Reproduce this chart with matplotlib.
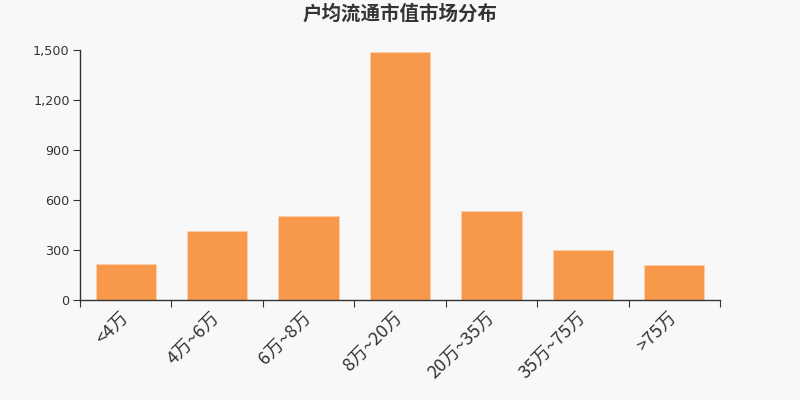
import matplotlib
matplotlib.use("Agg")
import matplotlib.pyplot as plt
from matplotlib.ticker import FuncFormatter, MultipleLocator

plt.rcParams['font.family'] = ['DejaVu Sans', 'Noto Sans CJK SC']

categories = ["<4万", "4万~6万", "6万~8万", "8万~20万", "20万~35万", "35万~75万", ">75万"]
values = [216, 414, 504, 1488, 532, 298, 210]
title = "户均流通市值市场分布"

bg = "#f8f8f8"
bar_color = "#f7984a"
text_color = "#333333"

fig = plt.figure(figsize=(8, 4), dpi=100, facecolor=bg)
ax = fig.add_axes([0.1, 0.25, 0.8, 0.625], facecolor=bg)

x = list(range(len(categories)))
ax.bar(x, values, width=0.66, color=bar_color, edgecolor="#fbd0ac", linewidth=0.6)

ax.set_xlim(-0.5, len(categories) - 0.5)
ax.set_ylim(0, 1500)
ax.yaxis.set_major_locator(MultipleLocator(300))
ax.yaxis.set_major_formatter(FuncFormatter(lambda v, p: f"{int(v):,}"))

for s in ["top", "right"]:
    ax.spines[s].set_visible(False)
for s in ["left", "bottom"]:
    ax.spines[s].set_color(text_color)
    ax.spines[s].set_linewidth(1)

# ticks at band boundaries
ax.set_xticks([i - 0.5 for i in range(len(categories) + 1)])
ax.set_xticklabels([])
ax.tick_params(axis='x', length=5, color=text_color)
ax.tick_params(axis='y', length=5, pad=2.5, color=text_color, labelsize=9.2, labelcolor=text_color)

for i, c in enumerate(categories):
    ax.text(i, -0.06, c, transform=ax.get_xaxis_transform(), rotation=45,
            ha='right', va='center', rotation_mode='anchor', fontsize=13,
            color=text_color, family=['Noto Sans CJK SC', 'DejaVu Sans'])

fig.text(0.5, 0.965, title, ha='center', va='center', fontsize=14, fontweight='bold',
         color=text_color, family=['Noto Sans CJK SC', 'DejaVu Sans'])

fig.savefig("out.png", dpi=100, facecolor=bg)
